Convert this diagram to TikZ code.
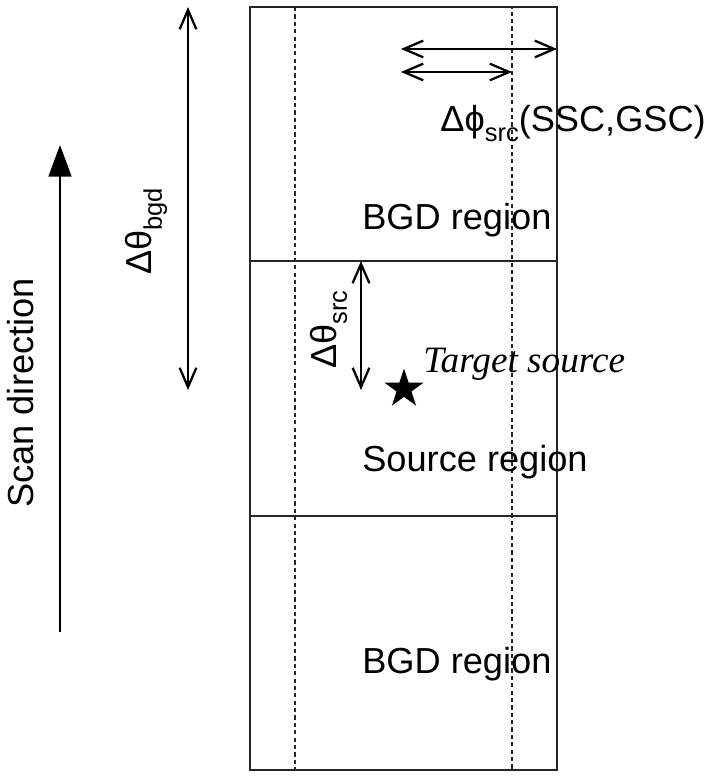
\documentclass[tikz,border=0pt]{standalone}
\usepackage{fontspec}
\setmainfont{Liberation Sans}
\newfontfamily\timesfont{Liberation Serif}
\usetikzlibrary{arrows.meta, shapes.geometric}

\newcommand{\lowsub}[1]{\raisebox{-0.3em}{\fontsize{14.5}{16}\selectfont #1}}

\tikzset{
  strip/.style={line width=0.65pt, black!85},
  window/.style={line width=0.65pt, black!85, dash pattern=on 2.4pt off 1.8pt},
  span/.style={line width=1.3pt, {Straight Barb[length=11pt, width=9.5pt]}-{Straight Barb[length=11pt, width=9.5pt]}},
  scan/.style={line width=1.3pt, -{Triangle[length=18pt, width=13pt]}},
  lbl/.style={inner sep=0pt, anchor=base west}
}

\begin{document}
\begin{tikzpicture}[x=0.02cm, y=-0.02cm, font=\fontsize{20.6}{24}\selectfont]
      \useasboundingbox (0,0) rectangle (718,781);

      % Define the corners of the scan strip
      \coordinate (TL) at (250,7);
      \coordinate (TR) at (557,7);
      \coordinate (BL) at (250,770);
      \coordinate (BR) at (557,770);
      \coordinate (ML1) at (250,261);
      \coordinate (MR1) at (557,261);
      \coordinate (ML2) at (250,516);
      \coordinate (MR2) at (557,516);

      % Draw the strip and its three regions
      \draw[strip] (TL) rectangle (BR);
      \draw[strip] (ML1) -- (MR1);
      \draw[strip] (ML2) -- (MR2);

      % Draw the dashed source window
      \coordinate (WTL) at (295,7);
      \coordinate (WBR) at (512,770);
      \draw[window] (WTL) rectangle (WBR);

      % Widths in phi
      \coordinate (P1) at (401,49);
      \coordinate (P2) at (557,49);
      \coordinate (P3) at (401,72);
      \coordinate (P4) at (512,72);
      \draw[span] (P1) -- (P2);
      \draw[span] (P3) -- (P4);
      \node[lbl] (dphi) at (440,131) {Δϕ\lowsub{src}(SSC,GSC)};

      % Heights in theta
      \coordinate (B1) at (188,7);
      \coordinate (B2) at (188,390);
      \draw[span] (B1) -- (B2);
      \node[lbl, rotate=90] (dbgd) at (151,275) {Δθ\lowsub{bgd}};

      \coordinate (S1) at (361,261);
      \coordinate (S2) at (361,390);
      \draw[span] (S1) -- (S2);
      \node[lbl, rotate=90] (dsrc) at (336,369) {Δθ\lowsub{src}};

      % Target source
      \node[star, star points=5, star point ratio=2.6, fill, inner sep=0pt, minimum size=0.82cm] (src) at (404,389) {};
      \node[lbl] (tgt) at (423,372) {\timesfont\fontsize{21.2}{24}\selectfont\itshape Target source};

      % Region labels
      \node[lbl] (bgdtop) at (362,229) {BGD region};
      \node[lbl] (srcreg) at (362,471) {Source region};
      \node[lbl] (bgdbot) at (362,673) {BGD region};

      % Scan direction
      \coordinate (D1) at (60,632);
      \coordinate (D2) at (60,145);
      \draw[scan] (D1) -- (D2);
      \node[lbl, rotate=90] (scandir) at (33,508) {Scan direction};
\end{tikzpicture}
\end{document}
